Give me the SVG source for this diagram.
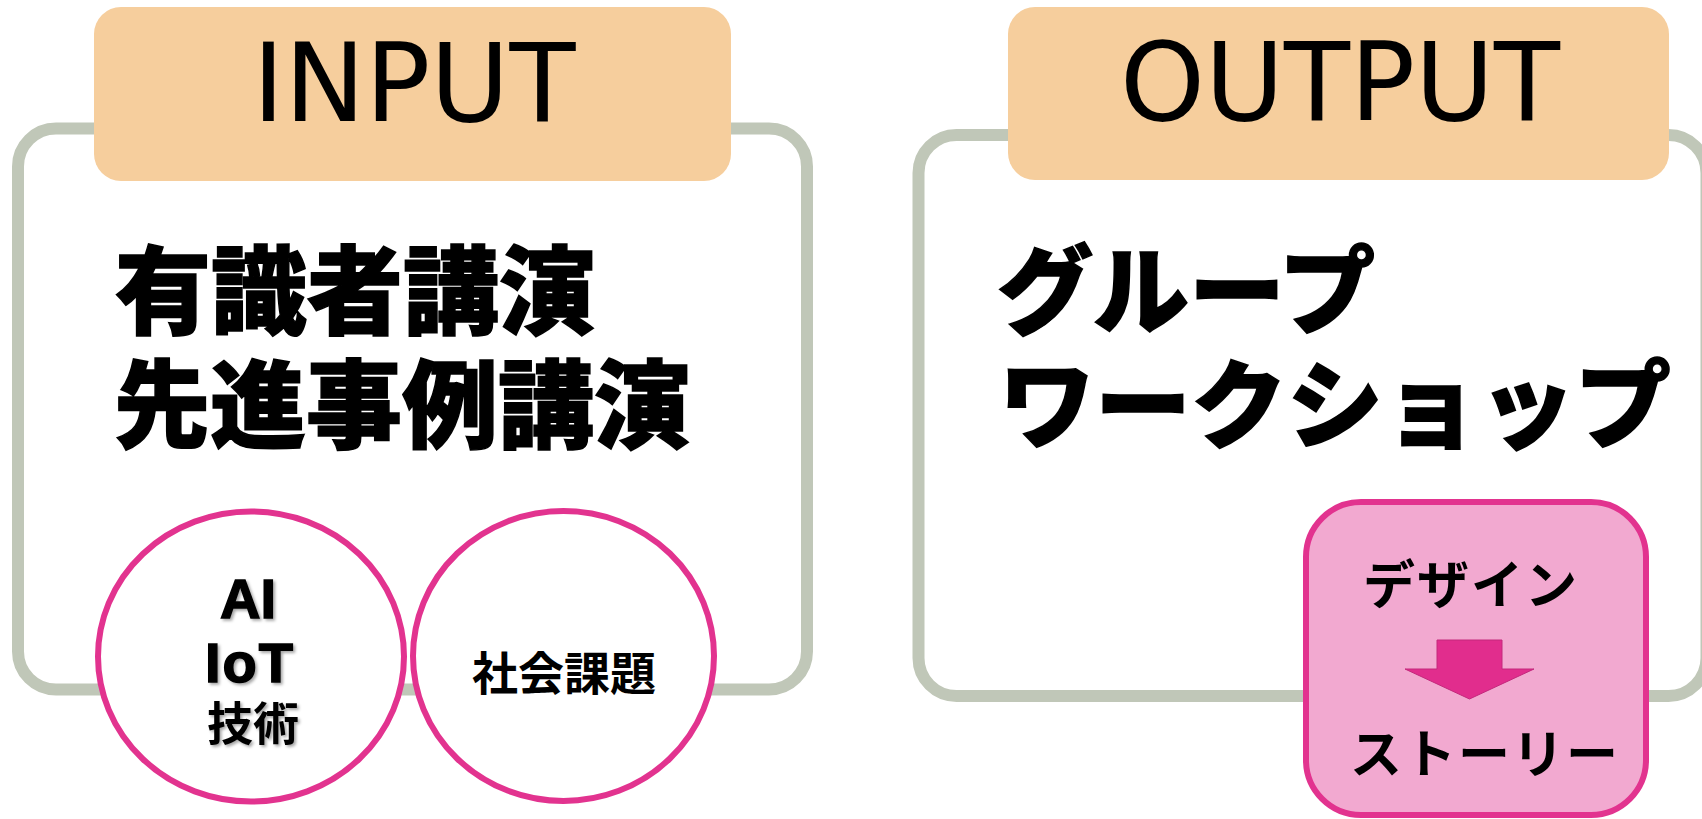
<svg xmlns="http://www.w3.org/2000/svg" width="1702" height="819" viewBox="0 0 1702 819">
<defs>
<style>
.frame{fill:#fff;stroke:#C0C7B8;stroke-width:12}
.tab{fill:#F6CE9D}
.tabtxt{font-family:"DejaVu Sans",sans-serif;font-size:108px;fill:#000;text-anchor:middle}
.big{font-family:"Noto Sans CJK JP",sans-serif;font-weight:900;font-size:96px;fill:#000;stroke:#000;stroke-width:1.5}
.ell{fill:#fff;stroke:#E2338F;stroke-width:6}
.lat{font-family:"Liberation Sans",Arial,sans-serif;font-weight:700;font-size:56px;fill:#000;stroke:#000;stroke-width:1.5;text-anchor:middle}
.jp{font-family:"Noto Sans CJK JP",sans-serif;font-weight:700;font-size:46px;fill:#000;text-anchor:middle}
.jp2{font-family:"Noto Sans CJK JP",sans-serif;font-weight:700;font-size:52px;fill:#000;text-anchor:middle;letter-spacing:2px}
</style>
<filter id="sh" x="-20%" y="-20%" width="140%" height="140%">
<feDropShadow dx="2" dy="2" stdDeviation="1.5" flood-color="#000" flood-opacity="0.35"/>
</filter>
</defs>
<rect x="0" y="0" width="1702" height="819" fill="#fff"/>

<g id="input">
<rect class="frame" x="18" y="128.5" width="789" height="561" rx="38"/>
<rect class="tab" x="94" y="7" width="637" height="174" rx="27"/>
<text class="tabtxt" x="414" y="121">INPUT</text>
<text class="big" x="115" y="326">有識者講演</text>
<text class="big" x="114" y="440">先進事例講演</text>
</g>

<g id="ai-iot">
<ellipse class="ell" cx="251" cy="656.5" rx="153" ry="145"/>
<g filter="url(#sh)">
<text class="lat" x="248" y="618">AI</text>
<text class="lat" x="250" y="682" letter-spacing="2">IoT</text>
<text class="jp" x="253" y="740">技術</text>
</g>
</g>

<g id="social">
<ellipse class="ell" cx="563.5" cy="656" rx="150.5" ry="145"/>
<text class="jp" x="564" y="690">社会課題</text>
</g>

<g id="output">
<rect class="frame" x="918.5" y="135" width="788" height="561" rx="38"/>
<rect class="tab" x="1008" y="7" width="661" height="173" rx="27"/>
<text class="tabtxt" x="1340" y="120">OUTPUT</text>
<text class="big" x="997" y="326">グループ</text>
<text class="big" x="999" y="440">ワークショップ</text>
</g>

<g id="design-story">
<rect x="1306" y="502" width="340" height="313" rx="55" fill="#F2A9D0" stroke="#E2338F" stroke-width="6"/>
<text class="jp2" x="1471" y="604">デザイン</text>
<text class="jp2" x="1485" y="773">ストーリー</text>
</g>

<g id="connectors">
<polygon points="1437,640 1502,640 1502,669 1534,669 1469.5,699 1405,669 1437,669" fill="#E12D8D" stroke="#C4287C" stroke-width="1"/>
</g>
</svg>
